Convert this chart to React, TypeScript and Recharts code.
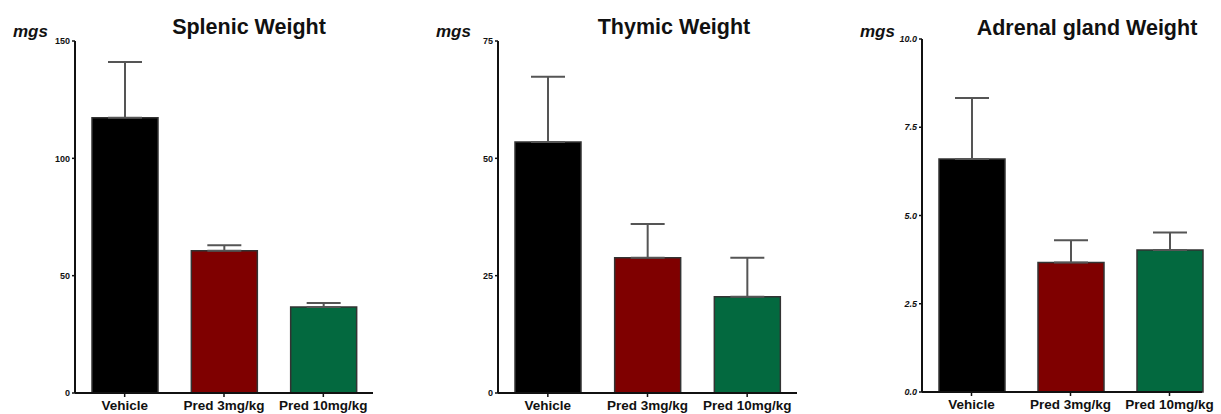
import { BarChart, Bar, XAxis, YAxis, ErrorBar, Cell } from 'recharts';

const FONT = '"Liberation Sans", Arial, Helvetica, sans-serif';

const categories = ['Vehicle', 'Pred 3mg/kg', 'Pred 10mg/kg'];
const barColors = ['#000000', '#7f0000', '#03693f'];

const splenicMean = [117.3, 60.6, 36.6];
const splenicErr = [23.7, 2.4, 1.7];
const splenicTicks = [0, 50, 100, 150];

const thymicMean = [53.5, 28.8, 20.5];
const thymicErr = [13.9, 7.2, 8.3];
const thymicTicks = [0, 25, 50, 75];

const adrenalMean = [6.6, 3.67, 4.02];
const adrenalErr = [1.73, 0.63, 0.5];
const adrenalTicks = [0, 2.5, 5, 7.5, 10];

interface PanelProps {
  left: number;
  width: number;
  means: number[];
  errs: number[];
  ticks: number[];
  plotTop: number;
  plotBottom: number;
  mLeft: number;
  mRight: number;
  padRight?: number;
  decimals?: boolean;
}

function Panel({ left, width, means, errs, ticks, plotTop, plotBottom, mLeft, mRight, padRight = 0, decimals }: PanelProps) {
  const data = categories.map((name, i) => ({ name, mean: means[i], err: [0, errs[i]] }));
  const yMax = ticks[ticks.length - 1];
  return (
    <div style={{ position: 'absolute', left, top: 0 }}>
      <BarChart
        width={width}
        height={414}
        data={data}
        margin={{ top: plotTop, right: mRight, bottom: 414 - plotBottom - 20, left: mLeft }}
      >
        <XAxis
          dataKey="name"
          height={20}
          padding={{ left: 0, right: padRight }}
          axisLine={{ stroke: '#111', strokeWidth: 2 }}
          tickLine={{ stroke: '#111', strokeWidth: 1.5 }}
          tickSize={4}
          tickMargin={3}
          interval={0}
          tick={{ fill: '#111', fontSize: 13.5, fontWeight: 'bold', fontFamily: FONT }}
        />
        <YAxis
          width={40}
          domain={[0, yMax]}
          ticks={ticks}
          interval={0}
          axisLine={{ stroke: '#111', strokeWidth: 2 }}
          tickLine={{ stroke: '#111', strokeWidth: 1.5 }}
          tickSize={3}
          tickMargin={2}
          tickFormatter={(v: number) => (decimals ? v.toFixed(1) : String(v))}
          tick={{
            fill: '#111',
            fontSize: 9,
            fontWeight: 'bold',
            fontStyle: decimals ? 'italic' : 'normal',
            fontFamily: FONT,
          }}
        />
        <Bar dataKey="mean" barSize={66} stroke="#333" strokeWidth={1.5} isAnimationActive={false}>
          {data.map((d, i) => (
            <Cell key={d.name} fill={barColors[i]} />
          ))}
          <ErrorBar dataKey="err" width={17} stroke="#555" strokeWidth={2} isAnimationActive={false} />
        </Bar>
      </BarChart>
    </div>
  );
}

export default function App() {
  return (
    <div
      style={{
        position: 'absolute',
        left: 0,
        top: 0,
        width: 1221,
        height: 414,
        overflow: 'hidden',
        background: '#fff',
      }}
    >
      <Panel left={0} width={410} means={splenicMean} errs={splenicErr} ticks={splenicTicks}
        plotTop={41} plotBottom={393} mLeft={35} mRight={37} />
      <Panel left={410} width={410} means={thymicMean} errs={thymicErr} ticks={thymicTicks}
        plotTop={41} plotBottom={393} mLeft={48} mRight={23} />
      <Panel left={820} width={401} means={adrenalMean} errs={adrenalErr} ticks={adrenalTicks}
        plotTop={39} plotBottom={392} mLeft={62} mRight={19} padRight={-17} decimals />
      <svg
        width={1221}
        height={414}
        style={{ position: 'absolute', left: 0, top: 0, pointerEvents: 'none' }}
        fontFamily={FONT}
      >
        <g fontSize={21.5} fontWeight="bold" fill="#111" textAnchor="middle">
          <text x={249} y={33.5}>Splenic Weight</text>
          <text x={674} y={33.5}>Thymic Weight</text>
          <text x={1087} y={34.5}>Adrenal gland Weight</text>
        </g>
        <g fontSize={17} fontWeight="bold" fontStyle="italic" fill="#111">
          <text x={13} y={36.7}>mgs</text>
          <text x={436} y={37.3}>mgs</text>
          <text x={860} y={36.7}>mgs</text>
        </g>
      </svg>
    </div>
  );
}
